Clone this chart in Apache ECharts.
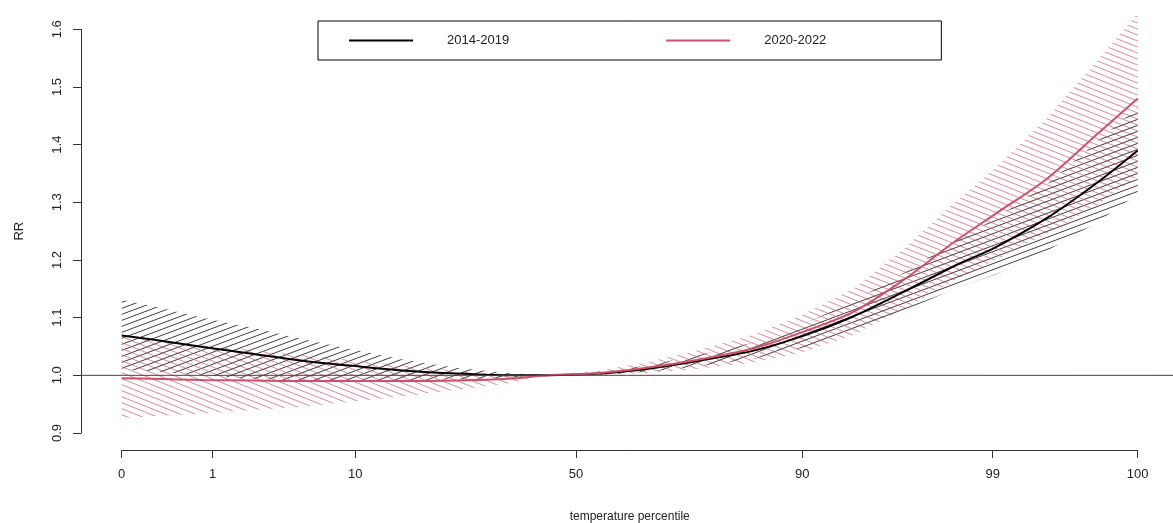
<!DOCTYPE html>
<html><head><meta charset="utf-8">
<script src="https://cdn.jsdelivr.net/npm/echarts@6/dist/echarts.min.js"></script>
<style>html,body{margin:0;padding:0;background:#fff}#c{width:1173px;height:523px}</style>
</head><body><div id="c"></div>
<script>
// temperature position (scaled so that 0th pct = 0 and 100th pct = 100)
const xPos = [0, 3, 8, 13, 18, 23, 28, 33, 38, 42, 47, 52, 57, 62, 67, 72, 77, 82, 86, 91, 96, 100];
// 2014-2019
const rr1 = [1.069, 1.062, 1.049, 1.037, 1.025, 1.016, 1.008, 1.003, 1.000, 1.000, 1.003, 1.012, 1.026, 1.042, 1.068, 1.102, 1.145, 1.190, 1.222, 1.272, 1.334, 1.390];
const hi1 = [1.131, 1.120, 1.100, 1.082, 1.062, 1.044, 1.026, 1.013, 1.004, 1.000, 1.005, 1.018, 1.036, 1.056, 1.088, 1.128, 1.178, 1.232, 1.272, 1.330, 1.405, 1.465];
const lo1 = [1.010, 1.007, 1.000, 0.994, 0.990, 0.989, 0.991, 0.993, 0.996, 1.000, 1.001, 1.006, 1.016, 1.028, 1.048, 1.076, 1.112, 1.150, 1.175, 1.215, 1.265, 1.315];
// 2020-2022
const rr2 = [0.995, 0.994, 0.992, 0.991, 0.990, 0.990, 0.990, 0.991, 0.994, 1.000, 1.004, 1.014, 1.028, 1.046, 1.075, 1.110, 1.166, 1.232, 1.280, 1.340, 1.418, 1.480];
const hi2 = [1.068, 1.062, 1.052, 1.044, 1.035, 1.026, 1.016, 1.008, 1.002, 1.000, 1.008, 1.024, 1.045, 1.070, 1.105, 1.150, 1.220, 1.300, 1.360, 1.445, 1.545, 1.628];
const lo2 = [0.926, 0.929, 0.934, 0.940, 0.946, 0.955, 0.964, 0.975, 0.986, 1.000, 1.000, 1.004, 1.012, 1.022, 1.040, 1.070, 1.115, 1.165, 1.200, 1.245, 1.295, 1.345];
// axis ticks
const xTickPos = [0, 8.96, 22.99, 44.72, 66.99, 85.73, 100];
const xTickLabels = ['0', '1', '10', '50', '90', '99', '100'];
const yTicks = [0.9, 1.0, 1.1, 1.2, 1.3, 1.4, 1.5, 1.6];
const yTickLabels = ['0.9', '1.0', '1.1', '1.2', '1.3', '1.4', '1.5', '1.6'];
const refX = [-4, 104];
const refY = [1, 1];
const names = ['2014-2019', '2020-2022'];

function hatch(color, dir, W, H, lw) {
  const c = document.createElement('canvas');
  c.width = W; c.height = H;
  const g = c.getContext('2d');
  g.strokeStyle = color; g.lineWidth = lw;
  g.beginPath();
  for (let i = -1; i <= 1; i++) for (let j = -1; j <= 1; j++) {
    const ox = i * W, oy = j * H;
    if (dir > 0) { g.moveTo(ox, oy + H); g.lineTo(ox + W, oy); }
    else { g.moveTo(ox, oy); g.lineTo(ox + W, oy + H); }
  }
  g.stroke();
  return c;
}
const patBlack = hatch('rgba(30,30,30,0.85)', 1, 16, 6, 1);
const patRed = hatch('rgba(205,85,110,0.7)', -1, 15, 6, 1);

const pairs = (ys) => xPos.map((x, i) => [x, ys[i]]);

function band(id, lo, hi, pat, z) {
  return {
    type: 'custom', name: id, silent: true, clip: false, z: z,
    data: [[xPos[0], lo[0]]],
    renderItem: function (params, api) {
      const pts = [];
      for (let i = 0; i < xPos.length; i++) pts.push(api.coord([xPos[i], hi[i]]));
      for (let i = xPos.length - 1; i >= 0; i--) pts.push(api.coord([xPos[i], lo[i]]));
      return { type: 'polygon', shape: { points: pts },
        style: { fill: { image: pat, repeat: 'repeat' }, stroke: null } };
    }
  };
}

const chart = echarts.init(document.getElementById('c'), null, { renderer: 'canvas' });
const font = 'Liberation Sans, Arial, sans-serif';
chart.setOption({
  animation: false,
  backgroundColor: '#fff',
  textStyle: { fontFamily: font },
  grid: { left: 121.7, right: 35.3, top: 29.3, bottom: 90, outerBoundsMode: 'none', containLabel: false },
  legend: {
    data: names, left: 318, top: 21, orient: 'horizontal', icon: 'rect',
    padding: [13, 115, 13, 31], itemWidth: 64, itemHeight: 2, itemGap: 157,
    borderColor: '#000', borderWidth: 1, borderRadius: 0,
    textStyle: { fontSize: 13, color: '#222', fontFamily: font, padding: [0, 0, 0, 29] }
  },
  xAxis: {
    type: 'value', min: 0, max: 100, offset: 17,
    name: 'temperature percentile', nameLocation: 'middle', nameGap: 61,
    nameTextStyle: { fontSize: 12, color: '#222' },
    axisLine: { show: true, onZero: false, lineStyle: { color: '#333', width: 1 } },
    axisTick: { show: true, length: 8, inside: false, customValues: xTickPos, lineStyle: { color: '#333' } },
    axisLabel: { customValues: xTickPos, margin: 18, fontSize: 13, color: '#222',
      formatter: (v) => { const i = xTickPos.findIndex(p => Math.abs(p - v) < 1e-6); return i >= 0 ? xTickLabels[i] : ''; } },
    splitLine: { show: false }
  },
  yAxis: {
    type: 'value', min: 0.9, max: 1.6, offset: 40.7,
    name: 'RR', nameLocation: 'middle', nameGap: 55, nameRotate: 90,
    nameTextStyle: { fontSize: 13, color: '#222' },
    axisLine: { show: true, onZero: false, lineStyle: { color: '#333', width: 1 } },
    axisTick: { show: true, length: 8, customValues: yTicks, lineStyle: { color: '#333' } },
    axisLabel: { customValues: yTicks, rotate: 90, margin: 17, fontSize: 13, color: '#222',
      formatter: (v) => { const i = yTicks.findIndex(p => Math.abs(p - v) < 1e-6); return i >= 0 ? yTickLabels[i] : ''; } },
    splitLine: { show: false }
  },
  series: [
    band('b1', lo1, hi1, patBlack, 1),
    band('b2', lo2, hi2, patRed, 2),
    { type: 'line', name: names[0], data: pairs(rr1), symbol: 'none', smooth: 0.3, clip: false,
      lineStyle: { color: '#000', width: 2 }, itemStyle: { color: '#000' }, z: 4 },
    { type: 'line', name: names[1], data: pairs(rr2), symbol: 'none', smooth: 0.3, clip: false,
      lineStyle: { color: '#d05069', width: 2 }, itemStyle: { color: '#d05069' }, z: 5 },
    { type: 'custom', name: 'ref', silent: true, clip: false, z: 6,
      data: [[refX[0], refY[0]]],
      renderItem: function (params, api) {
        const a = api.coord([refX[0], refY[0]]), b = api.coord([refX[1], refY[1]]);
        return { type: 'line', shape: { x1: a[0], y1: a[1], x2: b[0], y2: b[1] },
          style: { stroke: '#444', lineWidth: 1 } };
      } }
  ]
});
</script></body></html>
